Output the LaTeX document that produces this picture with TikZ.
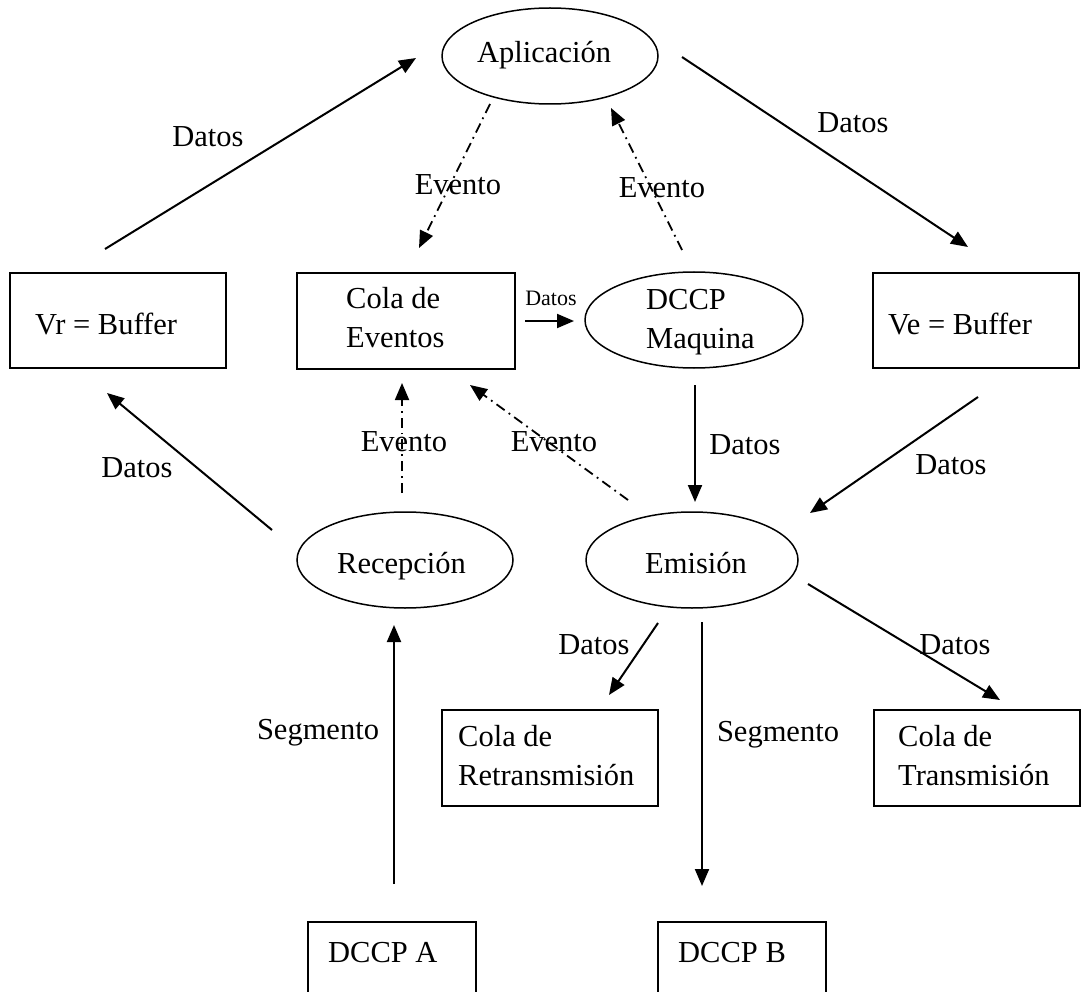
\documentclass[tikz,border=0pt]{standalone}
\usepackage{fontspec}
\setmainfont{Liberation Serif}
\usetikzlibrary{arrows.meta,shapes.geometric}
\newcommand{\fsbig}{\fontsize{30.5}{39}\selectfont}
\newcommand{\fssmall}{\fontsize{22}{26}\selectfont}
\begin{document}
\begin{tikzpicture}[x=1pt,y=-1pt,
  box/.style={draw,line width=1.5pt,rectangle,inner sep=0pt},
  ell/.style={draw,line width=1.5pt,ellipse,inner sep=0pt,minimum width=216pt,minimum height=96pt},
  txt/.style={inner sep=0pt,font=\fsbig,align=left,anchor=base west},
  lab/.style={inner sep=0pt,font=\fsbig},
  slab/.style={inner sep=0pt,font=\fssmall},
  arr/.style={line width=2pt,-{Triangle[length=17pt,width=14pt]}},
  evt/.style={line width=1.8pt,dash pattern=on 10pt off 5pt on 1.8pt off 5pt,-{Triangle[length=17pt,width=14pt]}}
]
\clip (0,0) rectangle (1081,992);
\fill[white] (0,0) rectangle (1081,992);

% shapes
\node[ell] (app) at (550,56) {};
\node[ell,minimum width=218pt] (dccp) at (694,320) {};
\node[ell] (rec) at (405,560) {};
\node[ell,minimum width=212pt] (emi) at (692,560) {};
\node[box,minimum width=216pt,minimum height=95pt] (vr) at (118,320.5) {};
\node[box,minimum width=218pt,minimum height=96pt] (cola) at (406,321) {};
\node[box,minimum width=206pt,minimum height=95pt] (ve) at (976,320.5) {};
\node[box,minimum width=216pt,minimum height=96pt] (retr) at (550,758) {};
\node[box,minimum width=206pt,minimum height=96pt] (tran) at (977,758) {};
\node[box,minimum width=168pt,minimum height=100pt] (dA) at (392,972) {};
\node[box,minimum width=168pt,minimum height=100pt] (dB) at (742,972) {};

% texts in shapes (base = baseline of the last line)
\node[txt] (tapp) at (477,63) {Aplicación};
\node[txt] (tdccp) at (646,348) {DCCP\\Maquina};
\node[txt] (trec) at (337,573) {Recepción};
\node[txt] (temi) at (645,573) {Emisión};
\node[txt] (tvr) at (35,334) {Vr = Buffer};
\node[txt] (tcola) at (346,347) {Cola de\\Eventos};
\node[txt] (tve) at (888,334) {Ve = Buffer};
\node[txt] (tretr) at (458,785) {Cola de\\Retransmisión};
\node[txt] (ttran) at (898,785) {Cola de\\Transmisión};
\node[txt] (tA) at (328,962) {DCCP A};
\node[txt] (tB) at (678,962) {DCCP B};

% connector end points
\coordinate (a1) at (105,249);  \coordinate (a2) at (416,58);
\coordinate (b1) at (682,57);   \coordinate (b2) at (968,247);
\coordinate (c1) at (490,104);  \coordinate (c2) at (419,248);
\coordinate (d1) at (682,250);  \coordinate (d2) at (611,108);
\coordinate (e1) at (525,321);  \coordinate (e2) at (574,321);
\coordinate (f1) at (402,493);  \coordinate (f2) at (402,383);
\coordinate (g1) at (628,500);  \coordinate (g2) at (470,385);
\coordinate (h1) at (695,385);  \coordinate (h2) at (695,502);
\coordinate (i1) at (978,397);  \coordinate (i2) at (810,513);
\coordinate (j1) at (272,530);  \coordinate (j2) at (107,393);
\coordinate (k1) at (394,884);  \coordinate (k2) at (394,625);
\coordinate (l1) at (702,622);  \coordinate (l2) at (702,886);
\coordinate (m1) at (658,623);  \coordinate (m2) at (609,695);
\coordinate (n1) at (808,584);  \coordinate (n2) at (1000,700);

% connectors
\draw[arr] (a1) -- (a2);
\draw[arr] (b1) -- (b2);
\draw[evt] (c1) -- (c2);
\draw[evt] (d1) -- (d2);
\draw[arr] (e1) -- (e2);
\draw[evt] (f1) -- (f2);
\draw[evt] (g1) -- (g2);
\draw[arr] (h1) -- (h2);
\draw[arr] (i1) -- (i2);
\draw[arr] (j1) -- (j2);
\draw[arr] (k1) -- (k2);
\draw[arr] (l1) -- (l2);
\draw[arr] (m1) -- (m2);
\draw[arr] (n1) -- (n2);

% labels
\node[lab] (L1) at (208,137) {Datos};
\node[lab] (L2) at (853,123) {Datos};
\node[lab] (L3) at (458,185) {Evento};
\node[lab] (L4) at (662,188) {Evento};
\node[slab] (L5) at (551,298) {Datos};
\node[lab] (L6) at (404,442) {Evento};
\node[lab] (L7) at (554,442) {Evento};
\node[lab] (L8) at (745,445) {Datos};
\node[lab] (L9) at (951,465) {Datos};
\node[lab] (L10) at (137,468) {Datos};
\node[lab] (L11) at (594,645) {Datos};
\node[lab] (L12) at (955,645) {Datos};
\node[lab] (L13) at (318,733) {Segmento};
\node[lab] (L14) at (778,735) {Segmento};
\end{tikzpicture}
\end{document}
